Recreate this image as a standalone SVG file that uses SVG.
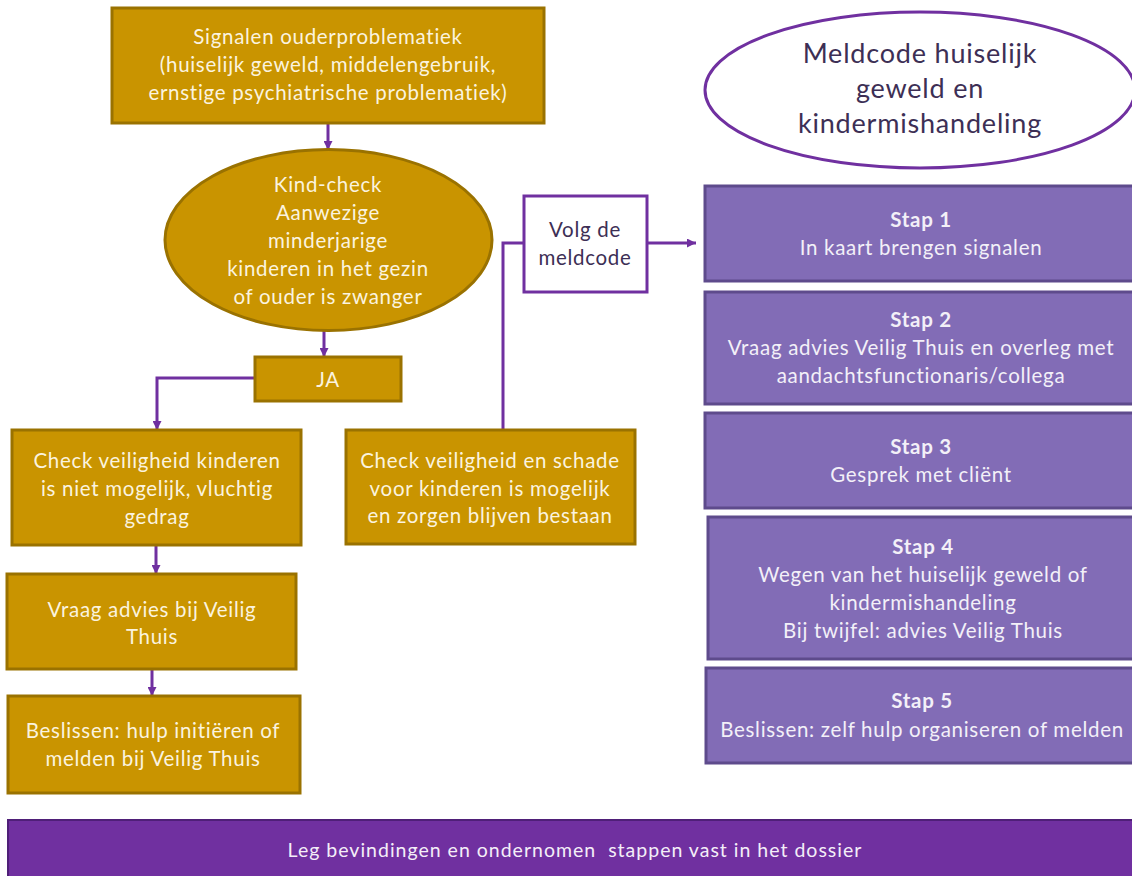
<svg xmlns="http://www.w3.org/2000/svg" width="1132" height="876" viewBox="0 0 1132 876">
<style>
.gold{fill:#C99400;stroke:#9A7200;stroke-width:3}
.step{fill:#826CB6;stroke:#5E4B8C;stroke-width:3}
.gt{font-family:Lato,"Open Sans",sans-serif;font-size:20.5px;letter-spacing:0.7px;fill:#FBF3DF;text-anchor:middle}
.st{font-family:Lato,"Open Sans",sans-serif;font-size:20.5px;letter-spacing:0.7px;fill:#F3F0F8;text-anchor:middle}
.sb{font-weight:bold}
.pt{font-family:Lato,"Open Sans",sans-serif;fill:#3D2F55;text-anchor:middle}
.conn{fill:none;stroke:#7030A0;stroke-width:3}
</style>
<defs>
<marker id="ah" viewBox="0 0 10 10" refX="10" refY="5" markerWidth="9" markerHeight="9" markerUnits="userSpaceOnUse" orient="auto">
<path d="M0,0 L10,5 L0,10 z" fill="#7030A0"/>
</marker>
</defs>
<rect width="1132" height="876" fill="#FFFFFF"/>

<g id="connectors">
<path class="conn" d="M328,123 V150" marker-end="url(#ah)"/>
<path class="conn" d="M324,331 V357" marker-end="url(#ah)"/>
<path class="conn" d="M255,378 H157 V430" marker-end="url(#ah)"/>
<path class="conn" d="M156,545 V574" marker-end="url(#ah)"/>
<path class="conn" d="M152,669 V696" marker-end="url(#ah)"/>
<path class="conn" d="M503,430 V243 H524"/>
<path class="conn" d="M647,243 H696" marker-end="url(#ah)"/>
</g>

<g id="signalen">
<rect class="gold" x="112" y="8" width="432" height="115"/>
<text class="gt" x="328" y="44">Signalen ouderproblematiek</text>
<text class="gt" x="328" y="72">(huiselijk geweld, middelengebruik,</text>
<text class="gt" x="328" y="100">ernstige psychiatrische problematiek)</text>
</g>

<g id="kindcheck">
<ellipse class="gold" cx="328.5" cy="240" rx="163.5" ry="90.5"/>
<text class="gt" x="328" y="192">Kind-check</text>
<text class="gt" x="328" y="220">Aanwezige</text>
<text class="gt" x="328" y="248">minderjarige</text>
<text class="gt" x="328" y="276">kinderen in het gezin</text>
<text class="gt" x="328" y="304">of ouder is zwanger</text>
</g>

<g id="ja">
<rect class="gold" x="255" y="357" width="146" height="44"/>
<text class="gt" x="328" y="387">JA</text>
</g>

<g id="check-niet">
<rect class="gold" x="12" y="430" width="289" height="115"/>
<text class="gt" x="157" y="468">Check veiligheid kinderen</text>
<text class="gt" x="157" y="496">is niet mogelijk, vluchtig</text>
<text class="gt" x="157" y="524">gedrag</text>
</g>

<g id="vraag-advies">
<rect class="gold" x="7" y="574" width="289" height="95"/>
<text class="gt" x="152" y="617">Vraag advies bij Veilig</text>
<text class="gt" x="152" y="644">Thuis</text>
</g>

<g id="beslissen">
<rect class="gold" x="8" y="696" width="292" height="97"/>
<text class="gt" x="153" y="738">Beslissen: hulp initiëren of</text>
<text class="gt" x="153" y="766">melden bij Veilig Thuis</text>
</g>

<g id="check-wel">
<rect class="gold" x="346" y="430" width="289" height="114"/>
<text class="gt" x="490" y="468">Check veiligheid en schade</text>
<text class="gt" x="490" y="496">voor kinderen is mogelijk</text>
<text class="gt" x="490" y="523">en zorgen blijven bestaan</text>
</g>

<g id="volg">
<rect x="524" y="196" width="123" height="96" fill="#FFFFFF" stroke="#7030A0" stroke-width="3"/>
<text class="pt" x="585" y="237" font-size="20.5" letter-spacing="0.7">Volg de</text>
<text class="pt" x="585" y="265" font-size="20.5" letter-spacing="0.7">meldcode</text>
</g>

<g id="meldcode-titel">
<ellipse cx="920" cy="90" rx="215" ry="78" fill="#FFFFFF" stroke="#7030A0" stroke-width="3"/>
<text class="pt" x="920" y="63" font-size="27" letter-spacing="0.8">Meldcode huiselijk</text>
<text class="pt" x="920" y="98" font-size="27" letter-spacing="0.8">geweld en</text>
<text class="pt" x="920" y="133" font-size="27" letter-spacing="0.8">kindermishandeling</text>
</g>

<g id="stap1">
<rect class="step" x="705" y="186" width="432" height="95"/>
<text class="st sb" x="921" y="227">Stap 1</text>
<text class="st" x="921" y="255">In kaart brengen signalen</text>
</g>

<g id="stap2">
<rect class="step" x="705" y="292" width="432" height="112"/>
<text class="st sb" x="921" y="327">Stap 2</text>
<text class="st" x="921" y="355">Vraag advies Veilig Thuis en overleg met</text>
<text class="st" x="921" y="383">aandachtsfunctionaris/collega</text>
</g>

<g id="stap3">
<rect class="step" x="705" y="413" width="432" height="95"/>
<text class="st sb" x="921" y="454">Stap 3</text>
<text class="st" x="921" y="482">Gesprek met cliënt</text>
</g>

<g id="stap4">
<rect class="step" x="708" y="517" width="429" height="142"/>
<text class="st sb" x="923" y="554">Stap 4</text>
<text class="st" x="923" y="582">Wegen van het huiselijk geweld of</text>
<text class="st" x="923" y="610">kindermishandeling</text>
<text class="st" x="923" y="638">Bij twijfel: advies Veilig Thuis</text>
</g>

<g id="stap5">
<rect class="step" x="706" y="668" width="431" height="95"/>
<text class="st sb" x="922" y="708">Stap 5</text>
<text class="st" x="922" y="737">Beslissen: zelf hulp organiseren of melden</text>
</g>

<g id="dossier">
<rect x="8" y="820" width="1130" height="60" fill="#7030A0" stroke="#4F1F78" stroke-width="2"/>
<text x="575" y="857" font-family="Lato,'Open Sans',sans-serif" font-size="19.5" letter-spacing="1" fill="#F4EEF8" text-anchor="middle" xml:space="preserve">Leg bevindingen en ondernomen  stappen vast in het dossier</text>
</g>
</svg>
